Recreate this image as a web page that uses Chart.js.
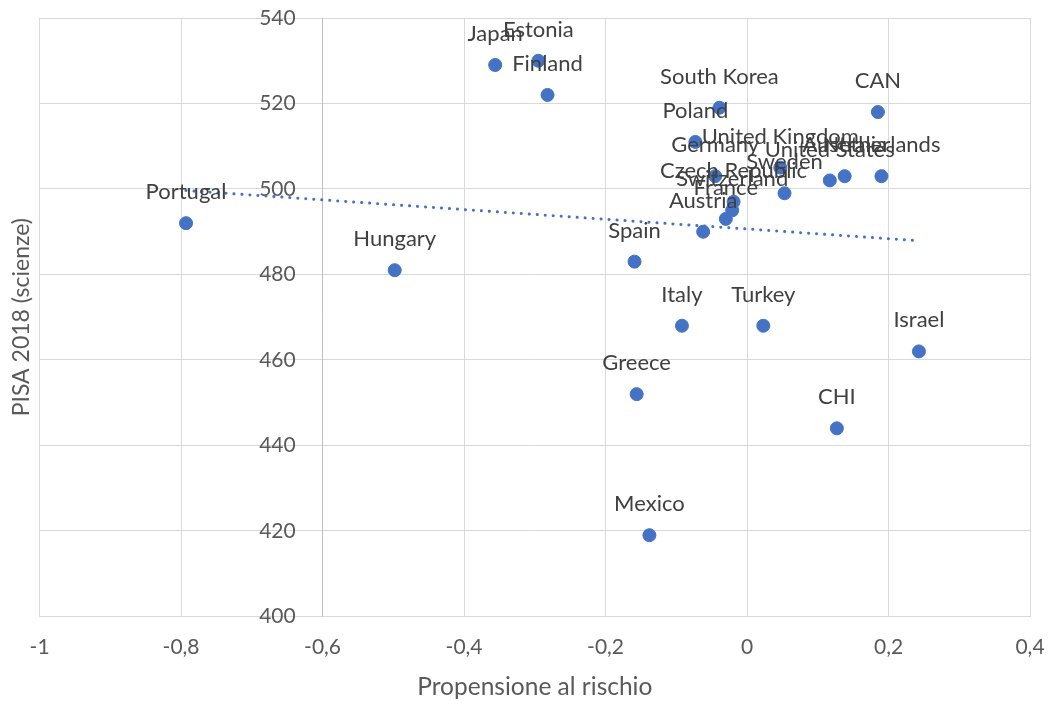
<!DOCTYPE html>
<html>
<head>
<meta charset="utf-8">
<script src="https://cdn.jsdelivr.net/npm/chart.js@4"></script>
<style>
  body { margin: 0; background: #fff; }
  #wrap { width: 1049px; height: 704px; }
</style>
</head>
<body>
<div id="wrap"><canvas id="riskChart" width="1049" height="704"></canvas></div>
<script>
// paesi e valori
const countries = ['Portugal', 'Hungary', 'Japan', 'Estonia', 'Finland', 'South Korea', 'Poland',
    'United Kingdom', 'Germany', 'United States', 'Australia', 'Netherlands', 'Sweden',
    'Czech Republic', 'Switzerland', 'France', 'Austria', 'Spain', 'Italy', 'Turkey',
    'Greece', 'Mexico', 'CHI', 'Israel', 'CAN'];
const risk = [-0.793, -0.498, -0.356, -0.295, -0.282, -0.039, -0.073,
    0.047, -0.045, 0.117, 0.138, 0.190, 0.053,
    -0.019, -0.021, -0.030, -0.062, -0.159, -0.092, 0.023,
    -0.156, -0.138, 0.127, 0.243, 0.185];
const pisa = [492, 481, 529, 530, 522, 519, 511,
    505, 503, 502, 503, 503, 499,
    497, 495, 493, 490, 483, 468, 468,
    452, 419, 444, 462, 518];
const xTicks = [-1, -0.8, -0.6, -0.4, -0.2, 0, 0.2, 0.4];
const yTicks = [400, 420, 440, 460, 480, 500, 520, 540];

const points = countries.map((c, i) => ({ x: risk[i], y: pisa[i] }));

// linea di tendenza (minimi quadrati)
const n = risk.length;
const mx = risk.reduce((a, b) => a + b, 0) / n;
const my = pisa.reduce((a, b) => a + b, 0) / n;
let sxy = 0, sxx = 0;
for (let i = 0; i < n; i++) {
    sxy += (risk[i] - mx) * (pisa[i] - my);
    sxx += (risk[i] - mx) * (risk[i] - mx);
}
const slope = sxy / sxx;
const icpt = my - slope * mx;
const xMin = Math.min(...risk), xMax = Math.max(...risk);
const trend = [{ x: xMin, y: icpt + slope * xMin }, { x: xMax, y: icpt + slope * xMax }];

const fmt = v => String(Math.round(v * 10) / 10).replace('.', ',');

// etichette sopra i punti
const pointLabels = {
    id: 'pointLabels',
    afterDatasetsDraw(chart) {
        const ctx = chart.ctx;
        const meta = chart.getDatasetMeta(0);
        ctx.save();
        ctx.font = '22px Lato';
        ctx.fillStyle = '#404040';
        ctx.textAlign = 'center';
        ctx.textBaseline = 'middle';
        meta.data.forEach((el, i) => {
            ctx.fillText(countries[i], el.x, el.y - 31);
        });
        ctx.restore();
    }
};

Chart.defaults.font.family = 'Lato';
Chart.defaults.font.size = 21;
Chart.defaults.color = '#595959';

const noPad = s => { s.paddingLeft = 0; s.paddingRight = 0; s.paddingTop = 0; s.paddingBottom = 0; };

const ctx = document.getElementById('riskChart').getContext('2d');
const chart = new Chart(ctx, {
    type: 'scatter',
    data: {
        datasets: [{
            data: points,
            backgroundColor: '#4472C4',
            borderColor: '#4472C4',
            pointRadius: 6.5,
            pointHoverRadius: 6.5,
            order: 2
        }, {
            type: 'line',
            data: trend,
            borderColor: '#4472C4',
            borderWidth: 3,
            borderDash: [0.1, 7.9],
            borderCapStyle: 'round',
            pointRadius: 0,
            fill: false,
            order: 1
        }]
    },
    options: {
        responsive: false,
        animation: false,
        layout: { padding: { left: 0, right: 19, top: 18, bottom: 2 } },
        plugins: {
            legend: { display: false },
            tooltip: { enabled: false }
        },
        scales: {
            x: {
                type: 'linear',
                min: -1,
                max: 0.4,
                afterBuildTicks: s => { s.ticks = xTicks.map(v => ({ value: v })); },
                afterFit: noPad,
                ticks: { callback: v => fmt(v), padding: 18, color: '#595959' },
                grid: { color: '#d9d9d9', drawTicks: false, lineWidth: 1 },
                border: { color: '#d9d9d9' },
                title: { display: true, text: 'Propensione al rischio', color: '#595959', font: { size: 24.5 }, padding: { top: -5, bottom: 0 } }
            },
            y: {
                type: 'linear',
                position: { x: -0.6 },
                min: 400,
                max: 540,
                afterBuildTicks: s => { s.ticks = yTicks.map(v => ({ value: v })); },
                afterFit: s => { noPad(s); s.width = 0; },
                ticks: { callback: v => v + '     ', color: '#595959' },
                grid: { color: '#d9d9d9', drawTicks: false, lineWidth: 1 },
                border: { color: '#bfbfbf' }
            },
            yTitle: {
                type: 'linear',
                position: 'left',
                min: 400,
                max: 540,
                afterFit: noPad,
                ticks: { display: false },
                grid: { display: false, drawTicks: false },
                border: { display: false },
                title: { display: true, text: 'PISA 2018 (scienze)', color: '#595959', font: { size: 23 }, padding: { top: 8, bottom: 4 } }
            }
        }
    },
    plugins: [pointLabels]
});
</script>
</body>
</html>
